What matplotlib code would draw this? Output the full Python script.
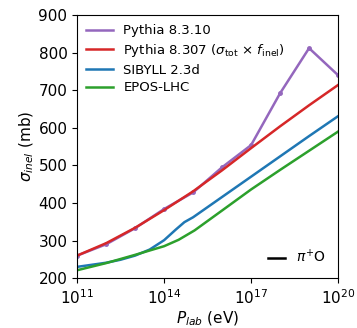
import matplotlib
matplotlib.use("Agg")
import matplotlib.pyplot as plt
import numpy as np
from matplotlib.lines import Line2D
from matplotlib.ticker import NullLocator

# data
p8310_logE = [11, 12, 13, 14, 15, 16, 17, 18, 19, 20]
p8310_sig = [260, 290, 333, 384, 428, 495, 554, 692, 812, 740]

p8307_logE = [11, 12, 13, 14, 15, 16, 17, 18, 19, 20]
p8307_sig = [260, 293, 334, 381, 431, 487, 546, 604, 660, 714]

sib_logE = [11, 12, 12.5, 13, 13.5, 14, 14.4, 14.7, 15, 16, 17, 18, 19, 20]
sib_sig = [230, 241, 249, 260, 276, 301, 329, 349, 362, 416, 470, 524, 578, 631]

epos_logE = [11, 12, 13, 14, 14.5, 15.05, 16, 17, 18, 19, 20]
epos_sig = [221, 240, 262, 285, 302, 327, 380, 436, 488, 539, 590]

fig = plt.figure(figsize=(3.57, 3.28), dpi=100)
ax = fig.add_axes([0.216, 0.152, 0.731, 0.802])

ax.plot(10.0**np.array(p8310_logE), p8310_sig, color="tab:purple", marker="o", ms=2.5, lw=1.8)
ax.plot(10.0**np.array(p8307_logE), p8307_sig, color="tab:red", lw=1.8)
ax.plot(10.0**np.array(sib_logE), sib_sig, color="tab:blue", lw=1.8)
ax.plot(10.0**np.array(epos_logE), epos_sig, color="tab:green", lw=1.8)

ax.set_xscale("log")
ax.set_xlim(1e11, 1e20)
ax.set_ylim(200, 900)
ax.set_xticks([1e11, 1e14, 1e17, 1e20])
ax.xaxis.set_minor_locator(NullLocator())
ax.tick_params(labelsize=11)
ax.set_xlabel(r"$P_{lab}$ (eV)", fontsize=11, labelpad=2)
ax.set_ylabel(r"$\sigma_{inel}$ (mb)", fontsize=11, labelpad=2)

handles = [Line2D([], [], color=c, lw=1.8) for c in ["tab:purple", "tab:red", "tab:blue", "tab:green"]]
labels = ["Pythia 8.3.10", r"Pythia 8.307 ($\sigma_{\rm tot}$ $\times$ $f_{\rm inel}$)",
          "SIBYLL 2.3d", "EPOS-LHC"]
leg1 = ax.legend(handles=handles, labels=labels, loc="upper left", frameon=False, fontsize=9.5,
                 handlelength=2.0, borderaxespad=0.3, labelspacing=0.35)
ax.add_artist(leg1)
ax.legend(handles=[Line2D([], [], color="black", lw=1.8)], labels=[r"$\pi^{+}$O"],
          loc="lower right", frameon=False, fontsize=10, handlelength=1.2)

fig.savefig("out.png", dpi=100)
